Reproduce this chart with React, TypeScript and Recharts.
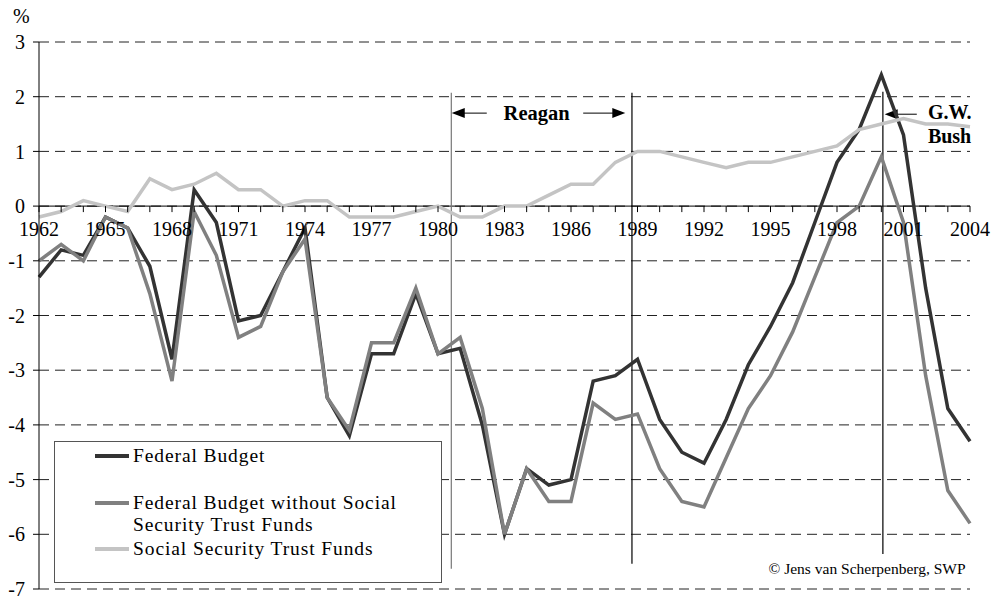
import React from "react";
import {
    LineChart,
    Line,
    XAxis,
    YAxis,
    CartesianGrid,
    ReferenceLine,
    ReferenceDot,
    Legend
} from "recharts";

const YEARS = Array.from({ length: 43 }, (_, i) => 1962 + i);

// balance in % of GDP
const FEDERAL = [
    -1.3, -0.8, -0.9, -0.2, -0.4, -1.1, -2.8, 0.3, -0.3, -2.1,
    -2.0, -1.2, -0.4, -3.5, -4.2, -2.7, -2.7, -1.6, -2.7, -2.6,
    -4.0, -6.0, -4.8, -5.1, -5.0, -3.2, -3.1, -2.8, -3.9, -4.5,
    -4.7, -3.9, -2.9, -2.2, -1.4, -0.3, 0.8, 1.4, 2.4, 1.3,
    -1.5, -3.7, -4.3
];
const WITHOUT_SS = [
    -1.0, -0.7, -1.0, -0.2, -0.4, -1.6, -3.2, -0.1, -0.9, -2.4,
    -2.2, -1.2, -0.6, -3.5, -4.1, -2.5, -2.5, -1.5, -2.7, -2.4,
    -3.7, -6.0, -4.8, -5.4, -5.4, -3.6, -3.9, -3.8, -4.8, -5.4,
    -5.5, -4.6, -3.7, -3.1, -2.3, -1.3, -0.3, 0.0, 0.9, -0.3,
    -3.1, -5.2, -5.8
];
const SS_TRUST = [
    -0.2, -0.1, 0.1, 0.0, -0.1, 0.5, 0.3, 0.4, 0.6, 0.3,
    0.3, 0.0, 0.1, 0.1, -0.2, -0.2, -0.2, -0.1, 0.0, -0.2,
    -0.2, 0.0, 0.0, 0.2, 0.4, 0.4, 0.8, 1.0, 1.0, 0.9,
    0.8, 0.7, 0.8, 0.8, 0.9, 1.0, 1.1, 1.4, 1.5, 1.6,
    1.5, 1.5, 1.45
];

const Y_TICKS = [-7, -6, -5, -4, -3, -2, -1, 0, 1, 2, 3];
const X_LABELS = [1962, 1965, 1968, 1971, 1974, 1977, 1980, 1983, 1986, 1989, 1992, 1995, 1998, 2001, 2004];

const SERIES = [
    { key: "federal", name: "Federal Budget", color: "#333333" },
    { key: "withoutSS", name: "Federal Budget without Social Security Trust Funds", color: "#808080" },
    { key: "ss", name: "Social Security Trust Funds", color: "#c4c4c4" }
];

const data = YEARS.map((year, i) => ({
    year,
    federal: FEDERAL[i],
    withoutSS: WITHOUT_SS[i],
    ss: SS_TRUST[i]
}));

const FONT = '"Liberation Serif", "Times New Roman", serif';
const W = 1003;
const H = 599;
const MARGIN = { top: 42, right: 33, bottom: 9, left: 0 };
const X_AXIS_H = 1;
const PLOT_TOP = MARGIN.top;
const PLOT_BOTTOM = H - MARGIN.bottom - X_AXIS_H;
const Y_MIN = -7;
const Y_MAX = 3;
// x axis sits on the zero line
const ZERO_Y = PLOT_TOP + ((Y_MAX - 0) / (Y_MAX - Y_MIN)) * (PLOT_BOTTOM - PLOT_TOP);

const YearTick = (props: any) => {
    const { x, payload } = props;
    const showLabel = X_LABELS.includes(payload.value);
    return (
        <g>
            <line x1={x} y1={ZERO_Y} x2={x} y2={ZERO_Y + 6} stroke="#000" strokeWidth={1} />
            {showLabel && (
                <text x={x} y={ZERO_Y + 30} textAnchor="middle" fontFamily={FONT} fontSize={20} fill="#000">
                    {payload.value}
                </text>
            )}
        </g>
    );
};

const Arrow = (props: any) => {
    const { x1, y1, x2, y2 } = props;
    const dir = x2 > x1 ? 1 : -1;
    return (
        <g>
            <line x1={x1} y1={y1} x2={x2 - dir * 10} y2={y2} stroke="#000" strokeWidth={1} />
            <polygon points={`${x2},${y2} ${x2 - dir * 13},${y2 - 5} ${x2 - dir * 13},${y2 + 5}`} fill="#000" />
        </g>
    );
};

const textShape = (value: string, anchor: string, bold: boolean, size: number) => (props: any) => (
    <text
        x={props.cx}
        y={props.cy}
        dy="0.35em"
        textAnchor={anchor}
        fontFamily={FONT}
        fontSize={size}
        fontWeight={bold ? "bold" : "normal"}
        fill="#000"
    >
        {value}
    </text>
);

const LegendBox = () => {
    const rows = [
        { color: SERIES[0].color, lines: ["Federal Budget"], top: 14 },
        { color: SERIES[1].color, lines: ["Federal Budget without Social", "Security Trust Funds"], top: 61 },
        { color: SERIES[2].color, lines: ["Social Security Trust Funds"], top: 107 }
    ];
    return (
        <div
            style={{
                width: 388,
                height: 142,
                boxSizing: "border-box",
                border: "1px solid #555",
                background: "#fff",
                position: "relative",
                fontFamily: FONT,
                fontSize: 19.5,
                letterSpacing: 0.9,
                color: "#000"
            }}
        >
            {rows.map((r, i) => (
                <React.Fragment key={i}>
                    <div style={{ position: "absolute", left: 40, top: r.top - 2, width: 34, height: 3.5, background: r.color }} />
                    <div style={{ position: "absolute", left: 78, top: r.top - 11, lineHeight: "22px", whiteSpace: "nowrap" }}>
                        {r.lines.map((l, j) => (
                            <React.Fragment key={j}>
                                {j > 0 && <br />}
                                {l}
                            </React.Fragment>
                        ))}
                    </div>
                </React.Fragment>
            ))}
        </div>
    );
};

export default function App() {
    return (
        <div style={{ position: "absolute", left: 0, top: 0, width: W, height: H, background: "#fff" }}>
            <div style={{ position: "absolute", left: 13, top: 5, fontFamily: FONT, fontSize: 20 }}>%</div>
            <LineChart width={W} height={H} data={data} margin={MARGIN}>
                <CartesianGrid horizontal vertical={false} stroke="#222" strokeDasharray="10 6" />
                <XAxis
                    dataKey="year"
                    type="number"
                    domain={[1962, 2004]}
                    ticks={YEARS}
                    interval={0}
                    height={X_AXIS_H}
                    axisLine={false}
                    tickLine={false}
                    tick={<YearTick />}
                />
                <YAxis
                    type="number"
                    domain={[Y_MIN, Y_MAX]}
                    ticks={Y_TICKS}
                    interval={0}
                    width={39}
                    axisLine={{ stroke: "#000" }}
                    tickLine={{ stroke: "#000" }}
                    tickSize={6}
                    tickMargin={8}
                    tick={{ fontFamily: FONT, fontSize: 20, fill: "#000" }}
                />
                <ReferenceLine y={0} stroke="#000" strokeWidth={1} />
                <ReferenceLine segment={[{ x: 1980.6, y: 2.07 }, { x: 1980.6, y: -6.63 }]} stroke="#777" strokeWidth={1.2} />
                <ReferenceLine segment={[{ x: 1988.75, y: 2.07 }, { x: 1988.75, y: -6.54 }]} stroke="#000" strokeWidth={1.2} />
                <ReferenceLine segment={[{ x: 2000.07, y: 2.09 }, { x: 2000.07, y: -6.36 }]} stroke="#000" strokeWidth={1.2} />
                <ReferenceLine segment={[{ x: 1982.2, y: 1.7 }, { x: 1980.62, y: 1.7 }]} shape={Arrow} />
                <ReferenceLine segment={[{ x: 1986.55, y: 1.7 }, { x: 1988.45, y: 1.7 }]} shape={Arrow} />
                <ReferenceLine segment={[{ x: 2001.6, y: 1.68 }, { x: 2000.15, y: 1.68 }]} shape={Arrow} />
                <Legend layout="vertical" align="center" verticalAlign="middle" wrapperStyle={{ left: 54, top: 441, width: 388, height: 142 }} content={<LegendBox />} />
                {SERIES.map((s) => (
                    <Line
                        key={s.key}
                        dataKey={s.key}
                        name={s.name}
                        type="linear"
                        stroke={s.color}
                        strokeWidth={3.5}
                        dot={false}
                        activeDot={false}
                        isAnimationActive={false}
                    />
                ))}
                <ReferenceDot x={1984.45} y={1.7} r={0} shape={textShape("Reagan", "middle", true, 20.5)} />
                <ReferenceDot x={2002.1} y={1.72} r={0} shape={textShape("G.W.", "start", true, 20)} />
                <ReferenceDot x={2002.1} y={1.28} r={0} shape={textShape("Bush", "start", true, 20)} />
                <ReferenceDot x={2003.8} y={-6.63} r={0} shape={textShape("© Jens van Scherpenberg, SWP", "end", false, 15.5)} />
            </LineChart>
        </div>
    );
}
